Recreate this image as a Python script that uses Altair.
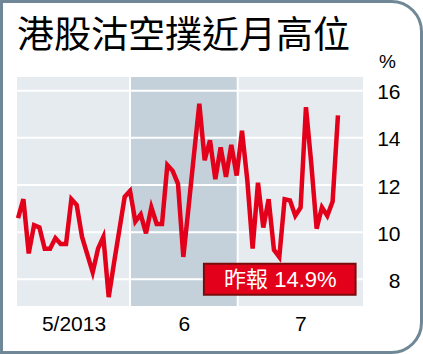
import altair as alt
import pandas as pd

# ---- data ----
title_text = "港股沽空撲近月高位"
unit_text = "%"

short_ratio = [10.6, 11.4, 9.1, 10.3, 10.2, 9.3, 9.3, 9.75, 9.5, 9.5,
               11.4, 11.15, 9.8, 9.05, 8.3, 9.3, 9.8, 7.25, 8.7, 10.1,
               11.5, 11.75, 10.45, 10.75, 9.95, 11.05, 10.35, 10.35, 12.85, 12.6,
               12.05, 8.95, 11.1, 13.3, 15.45, 13.05, 13.9, 12.25, 13.6, 12.35,
               13.7, 12.4, 14.3, 12.2, 9.3, 12.1, 10.2, 11.4, 9.25, 8.95,
               11.4, 11.35, 10.7, 11.05, 15.3, 12.9, 10.15, 11.05, 10.7, 11.3, 14.95]

month_labels = ["5/2013", "6", "7"]
month_start = [-0.2, 21.0, 41.2]
month_end = [21.0, 41.2, 64.7]
month_fill = ["#e6ebf0", "#c4d1da", "#e6ebf0"]

y_ticks = [8, 10, 12, 14, 16]
note_text = "昨報 14.9%"

# ---- tables ----
line_df = pd.DataFrame({"day": list(range(len(short_ratio))), "ratio": short_ratio})
band_df = pd.DataFrame({"start": month_start, "end": month_end,
                        "fill": month_fill, "label": month_labels})
band_df["mid"] = (band_df["start"] + band_df["end"]) / 2
grid_df = pd.DataFrame({"v": y_ticks})
vline_df = pd.DataFrame({"b": month_start[1:]})
note_df = pd.DataFrame({"x": [49.2], "y": [7.96], "x1": [34.86], "x2": [63.31],
                        "y1": [8.665], "y2": [7.35], "text": [note_text]})

W, H = 346, 229
PAD = {"left": 17, "top": 77, "right": 60, "bottom": 48}
FONT = "Liberation Sans"
CJK = "Noto Sans CJK TC"

x_scale = alt.Scale(domain=[-0.2, 64.7], nice=False, zero=False)
y_scale = alt.Scale(domain=[6.87, 16.58], nice=False, zero=False)

mids = [float(m) for m in band_df["mid"]]
label_expr = (f"datum.value < {month_start[1]} ? '{month_labels[0]}' : "
              f"(datum.value < {month_start[2]} ? '{month_labels[1]}' : '{month_labels[2]}')")

x_axis = alt.Axis(values=mids, labelExpr=label_expr, title=None, domain=False,
                  ticks=False, tickSize=0, grid=False, labelFontSize=21,
                  labelFont=FONT, labelColor="black", labelPadding=7,
                  labelAngle=0, labelAlign="center", labelFlush=False,
                  labelOverlap=False)
y_axis = alt.Axis(orient="right", values=y_ticks, title=None, domain=False,
                  ticks=False, tickSize=0, grid=False, labelFontSize=21,
                  labelFont=FONT, labelColor="black", labelAlign="right",
                  labelPadding=37, labelOffset=2, labelFlush=False,
                  labelOverlap=False)

X = lambda f: alt.X(f, scale=x_scale, axis=x_axis)
Y = lambda f: alt.Y(f, scale=y_scale, axis=y_axis)

bands = alt.Chart(band_df).mark_rect().encode(
    x=X("start:Q"),
    x2="end:Q",
    y=alt.value(0), y2=alt.value(H),
    color=alt.Color("fill:N", scale=None, legend=None),
)

hgrid = alt.Chart(grid_df).mark_rule(color="white", strokeWidth=2).encode(
    y=Y("v:Q"),
)

vgrid = alt.Chart(vline_df).mark_rule(color="white", strokeWidth=2).encode(
    x=X("b:Q"),
)

line = alt.Chart(line_df).mark_line(color="#e2001a", strokeWidth=4.5,
                                    strokeJoin="miter").encode(
    x=X("day:Q"),
    y=Y("ratio:Q"),
)

note_box = alt.Chart(note_df).mark_rect(fill="#e2001a", stroke="#7a0c0c",
                                        strokeWidth=2).encode(
    x=X("x1:Q"), x2="x2:Q",
    y=Y("y1:Q"), y2="y2:Q",
)
note_txt = alt.Chart(note_df).mark_text(color="white", fontSize=22,
                                        font=f"{FONT}, {CJK}",
                                        align="center", baseline="middle").encode(
    x=X("x:Q"),
    y=Y("y:Q"),
    text="text:N",
)

title = alt.Chart(pd.DataFrame({"t": [title_text]})).mark_text(
    fontSize=37, font=CJK, align="left", baseline="middle", color="black"
).encode(text="t:N", x=alt.value(0), y=alt.value(-40))

unit = alt.Chart(pd.DataFrame({"t": [unit_text]})).mark_text(
    fontSize=19, font=FONT, align="center", baseline="middle", color="black"
).encode(text="t:N", x=alt.value(370.5), y=alt.value(-15.5))

frame = alt.Chart(pd.DataFrame({"a": [0]})).mark_rect(
    fill="white", fillOpacity=0, stroke="#6f8796", strokeWidth=3,
    cornerRadiusTopRight=30, cornerRadiusBottomRight=30
).encode(x=alt.value(-15.5), x2=alt.value(404.5),
         y=alt.value(-75.5), y2=alt.value(275.5))

chart = alt.layer(bands, hgrid, vgrid, line, note_box, note_txt, title, unit, frame).properties(
    width=W, height=H,
    autosize=alt.AutoSizeParams(type="none"),
    padding=PAD,
    background="white",
).configure_view(strokeWidth=0)

chart.save("out.html", embed_options={"renderer": "svg", "actions": False})
